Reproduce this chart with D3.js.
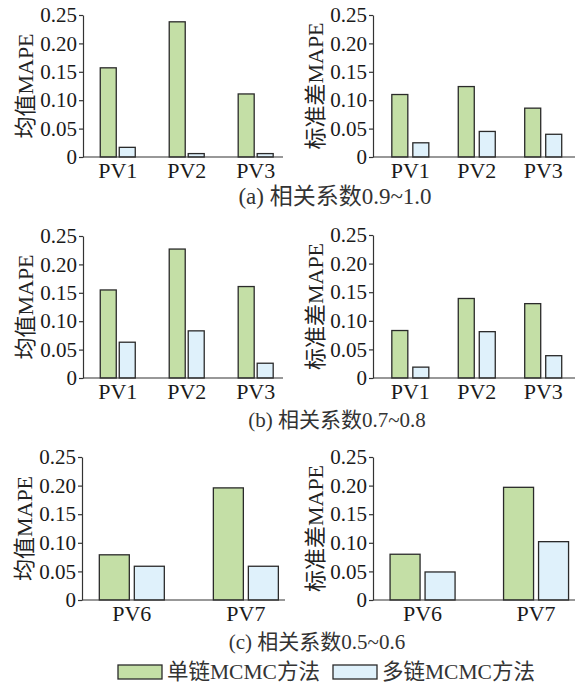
<!DOCTYPE html>
<html lang="zh">
<head>
    <meta charset="UTF-8">
    <title>MAPE</title>
</head>
<style>
    body { margin: 0; background: #fff; }
    svg text { font-family: "Liberation Serif", "Times New Roman", "Noto Sans CJK SC", serif; fill: #1a1a1a; }
    .domain, .tick line { stroke: #333; stroke-width: 1.2px; }
</style>
<body>
<script src="https://d3js.org/d3.v7.min.js"></script>
<script>
    const width = 581, height = 686;
    const FONT = '"Liberation Serif", "Times New Roman", "Noto Sans CJK SC", serif';

    // data
    const catsAB = ["PV1", "PV2", "PV3"];
    const catsC = ["PV6", "PV7"];

    const meanA1 = [0.157, 0.238, 0.111], meanA2 = [0.017, 0.006, 0.006];
    const stdA1 = [0.110, 0.124, 0.086], stdA2 = [0.025, 0.045, 0.040];
    const meanB1 = [0.155, 0.227, 0.161], meanB2 = [0.063, 0.083, 0.026];
    const stdB1 = [0.083, 0.139, 0.130], stdB2 = [0.019, 0.081, 0.039];
    const meanC1 = [0.079, 0.196], meanC2 = [0.059, 0.059];
    const stdC1 = [0.080, 0.197], stdC2 = [0.049, 0.102];

    const yTicks = [0, 0.05, 0.10, 0.15, 0.20, 0.25];
    const yTickLabels = ["0", "0.05", "0.10", "0.15", "0.20", "0.25"];
    const seriesNames = ["单链MCMC方法", "多链MCMC方法"];
    const seriesColors = ["#c4dfa6", "#dff1fb"];
    const captions = ["(a)  相关系数0.9~1.0", "(b)  相关系数0.7~0.8", "(c)  相关系数0.5~0.6"];
    const yTitles = ["均值MAPE", "标准差MAPE"];

    const svg = d3.select("body").append("svg")
        .attr("width", width)
        .attr("height", height);

    // x0/x1: axis extent, top/zero: pixel of 0.25 and 0
    const panels = [
        {cats: catsAB, s1: meanA1, s2: meanA2, title: 0, x0: 83, x1: 283, top: 15, zero: 157, pad: 0.45, align: 0.56, bw: 16, gap: 3},
        {cats: catsAB, s1: stdA1, s2: stdA2, title: 1, x0: 373, x1: 575, top: 15, zero: 157, pad: 0.52, align: 0.54, bw: 16, gap: 5},
        {cats: catsAB, s1: meanB1, s2: meanB2, title: 0, x0: 83, x1: 283, top: 236, zero: 378, pad: 0.45, align: 0.56, bw: 16, gap: 3},
        {cats: catsAB, s1: stdB1, s2: stdB2, title: 1, x0: 373, x1: 575, top: 235, zero: 378, pad: 0.52, align: 0.54, bw: 16, gap: 5},
        {cats: catsC, s1: meanC1, s2: meanC2, title: 0, x0: 82, x1: 285, top: 457, zero: 600, pad: 0.39, align: 0.56, bw: 30, gap: 5},
        {cats: catsC, s1: stdC1, s2: stdC2, title: 1, x0: 373, x1: 575, top: 457, zero: 600, pad: 0.39, align: 0.56, bw: 30, gap: 5}
    ];

    panels.forEach(function (p) {
        const g = svg.append("g");
        const x = d3.scalePoint().domain(p.cats).range([p.x0, p.x1]).padding(p.pad).align(p.align);
        const y = d3.scaleLinear().domain([0, 0.25]).range([p.zero, p.top]);

        const yAxis = d3.axisLeft(y)
            .tickValues(yTicks)
            .tickFormat(function (d, i) { return yTickLabels[i]; })
            .tickSize(4)
            .tickSizeOuter(0);
        const ag = g.append("g").attr("transform", "translate(" + p.x0 + ",0)").call(yAxis);
        ag.attr("font-family", null).attr("font-size", null);
        ag.selectAll("text").attr("x", -6)
            .style("font-family", FONT).style("font-size", "21px").style("fill", "#1a1a1a");

        // bars
        [p.s1, p.s2].forEach(function (vals, si) {
            g.selectAll("rect.s" + si)
                .data(vals)
                .enter().append("rect")
                .attr("class", "s" + si)
                .attr("x", function (d, i) {
                    const c = x(p.cats[i]);
                    return si === 0 ? c - p.gap / 2 - p.bw : c + p.gap / 2;
                })
                .attr("y", function (d) { return y(d); })
                .attr("width", p.bw)
                .attr("height", function (d) { return y(0) - y(d); })
                .attr("fill", seriesColors[si])
                .attr("stroke", "#2a2a2a")
                .attr("stroke-width", 1.3);
        });

        // x axis line, no ticks
        g.append("line")
            .attr("x1", p.x0).attr("x2", p.x1)
            .attr("y1", p.zero).attr("y2", p.zero)
            .attr("stroke", "#333").attr("stroke-width", 1.2);

        g.selectAll("text.xl")
            .data(p.cats)
            .enter().append("text")
            .attr("class", "xl")
            .attr("x", function (d) { return x(d); })
            .attr("y", p.zero + 21)
            .attr("text-anchor", "middle")
            .style("font-family", FONT)
            .style("font-size", "22px")
            .text(function (d) { return d; });

        const cy = (p.top + p.zero) / 2;
        const tx = p.x0 - 58;
        g.append("text")
            .attr("transform", "translate(" + tx + "," + cy + ") rotate(-90)")
            .attr("text-anchor", "middle")
            .attr("dominant-baseline", "central")
            .style("font-family", FONT)
            .style("font-size", "22px")
            .style("fill", "#222")
            .text(yTitles[p.title]);
    });

    const capPos = [[335, 204], [337, 427], [317, 649]];
    const capSize = [23, 21, 21];
    svg.selectAll("text.cap")
        .data(captions)
        .enter().append("text")
        .attr("class", "cap")
        .attr("x", function (d, i) { return capPos[i][0]; })
        .attr("y", function (d, i) { return capPos[i][1]; })
        .attr("text-anchor", "middle")
        .style("font-family", FONT)
        .style("font-size", function (d, i) { return capSize[i] + "px"; })
        .style("fill", "#333")
        .text(function (d) { return d; });

    // legend
    const legX = [118, 333];
    const leg = svg.selectAll("g.leg")
        .data(seriesNames)
        .enter().append("g")
        .attr("class", "leg")
        .attr("transform", function (d, i) { return "translate(" + legX[i] + ",665)"; });
    leg.append("rect")
        .attr("width", 44).attr("height", 14)
        .attr("fill", function (d, i) { return seriesColors[i]; })
        .attr("stroke", "#2a2a2a").attr("stroke-width", 1.3);
    leg.append("text")
        .attr("x", 49).attr("y", 14)
        .style("font-family", FONT)
        .style("font-size", "21.5px")
        .style("fill", "#333")
        .text(function (d) { return d; });
</script>
</body>
</html>
